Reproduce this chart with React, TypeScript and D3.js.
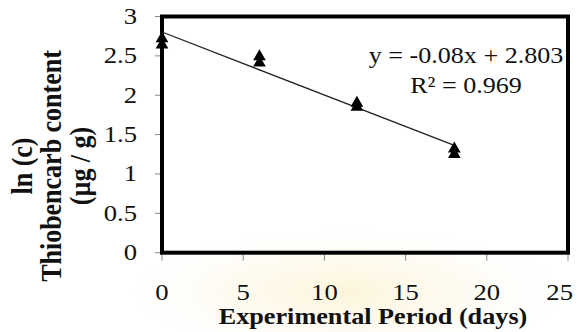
import * as d3 from "d3";

const days = [0, 0, 6, 6, 12, 12, 18, 18];
const lnC = [2.72, 2.64, 2.49, 2.41, 1.9, 1.85, 1.32, 1.25];
const xTicks = [0, 5, 10, 15, 20, 25];
const yTicks = [0, 0.5, 1, 1.5, 2, 2.5, 3];
const slope = -0.08;
const intercept = 2.803;
const fitRange = [0, 18];
const eqText = "y = -0.08x + 2.803";
const r2Text = "R² = 0.969";

const W = 582, H = 332;
const left = 162, right = 568, top = 16.5, bottom = 252.7;
const SX = 1.16;
const serif = "'Liberation Serif', 'Times New Roman', serif";

export default function App() {
  const x = d3.scaleLinear().domain([0, 25]).range([left, right]);
  const y = d3.scaleLinear().domain([0, 3]).range([bottom, top]);
  const tri = d3.symbol(d3.symbolTriangle, 70)();
  const fit = d3.line<number>().x((d) => x(d)).y((d) => y(slope * d + intercept));

  return (
    <div style={{ position: "absolute", left: 0, top: 0 }}>
      <svg width={W} height={H} style={{ display: "block", background: "#fff" }}>
        <defs>
          <radialGradient id="wm" cx="0.5" cy="0.5" r="0.5">
            <stop offset="0%" stopColor="#fbeec2" stopOpacity="0.6" />
            <stop offset="60%" stopColor="#fdf4dc" stopOpacity="0.35" />
            <stop offset="100%" stopColor="#fff" stopOpacity="0" />
          </radialGradient>
        </defs>
        <ellipse cx={345} cy={292} rx={220} ry={66} fill="url(#wm)" />

        {/* y ticks and labels */}
        {yTicks.map((t) => (
          <g key={"y" + t}>
            <line x1={left - 7} x2={left} y1={y(t)} y2={y(t)} stroke="#888" strokeWidth={1} />
            <text
              transform={`translate(137,${y(t) + 7.5}) scale(${SX},1)`}
              textAnchor="end"
              fontFamily={serif}
              fontSize={23}
              fill="#111"
            >
              {t}
            </text>
          </g>
        ))}

        {/* x ticks and labels */}
        {xTicks.map((t, i) => {
          const last = i === xTicks.length - 1;
          return (
            <g key={"x" + t}>
              <line x1={x(t)} x2={x(t)} y1={bottom} y2={bottom + 8} stroke="#888" strokeWidth={1} />
              <text
                transform={`translate(${last ? 573 : x(t)},300) scale(${SX},1)`}
                textAnchor={last ? "end" : "middle"}
                fontFamily={serif}
                fontSize={23}
                fill="#111"
              >
                {t}
              </text>
            </g>
          );
        })}

        {/* plot border */}
        <rect
          x={left}
          y={top}
          width={right - left}
          height={bottom - top}
          fill="none"
          stroke="#000"
          strokeWidth={4}
        />

        {/* trend line */}
        <path d={fit(fitRange) ?? ""} fill="none" stroke="#222" strokeWidth={1.3} />

        {/* points */}
        {days.map((d, i) => (
          <path key={"p" + i} d={tri ?? ""} transform={`translate(${x(d)},${y(lnC[i])})`} fill="#000" />
        ))}

        {/* equation */}
        <text
          transform={`translate(466,63) scale(${SX},1)`}
          textAnchor="middle"
          fontFamily={serif}
          fontSize={22.5}
          fill="#111"
        >
          {eqText}
        </text>
        <text
          transform={`translate(466,93) scale(${SX},1)`}
          textAnchor="middle"
          fontFamily={serif}
          fontSize={22.5}
          fill="#111"
        >
          {r2Text}
        </text>

        {/* x axis title */}
        <text
          transform={`translate(373,324) scale(${SX},1)`}
          textAnchor="middle"
          fontFamily={serif}
          fontWeight="bold"
          fontSize={22.6}
          fill="#111"
        >
          Experimental Period (days)
        </text>

        {/* y axis title */}
        {["ln (c)", "Thiobencarb content", "(µg / g)"].map((s, i) => (
          <text
            key={s}
            transform={`translate(${32 + i * 29},166) rotate(-90) scale(1,${SX})`}
            textAnchor="middle"
            fontFamily={serif}
            fontWeight="bold"
            fontSize={26}
            fill="#111"
          >
            {s}
          </text>
        ))}
      </svg>
    </div>
  );
}
